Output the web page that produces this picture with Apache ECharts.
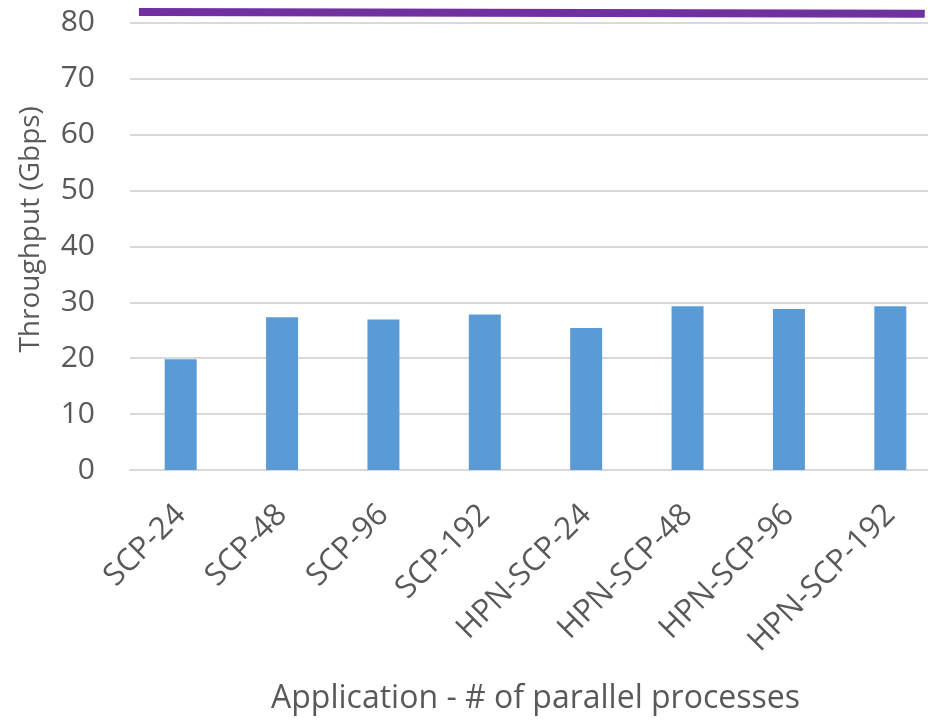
<!DOCTYPE html>
<html>
<head>
<meta charset="utf-8">
<script src="https://cdn.jsdelivr.net/npm/echarts@6/dist/echarts.min.js"></script>
<style>
  html, body { margin: 0; padding: 0; background: #fff; overflow: hidden; }
  #chart { width: 945px; height: 720px; }
</style>
</head>
<body>
<div id="chart"></div>
<script>
// Application runs and their measured throughput (Gbps)
var categories = ['SCP-24', 'SCP-48', 'SCP-96', 'SCP-192',
                  'HPN-SCP-24', 'HPN-SCP-48', 'HPN-SCP-96', 'HPN-SCP-192'];
var throughput = [19.8, 27.3, 26.9, 27.8, 25.4, 29.3, 28.8, 29.3];

// Reference throughput line drawn across the plot (span fraction, Gbps)
var refSpan = [0.011, 0.98];
var refLevel = [81.9, 81.6];

var yTicks = { min: 0, max: 80, interval: 10 };

var FONT = 'Open Sans';
var GREY = '#595959';

var chart = echarts.init(document.getElementById('chart'), null, { renderer: 'canvas' });

chart.setOption({
  animation: false,
  backgroundColor: '#ffffff',
  grid: { left: 130, top: 22.7, width: 811, height: 448.3, containLabel: false },
  xAxis: [
    {
      type: 'category',
      data: categories,
      boundaryGap: true,
      axisLine: { show: true, lineStyle: { color: '#d9d9d9', width: 2 } },
      axisTick: { show: false },
      axisLabel: { rotate: 45, margin: 40, fontFamily: FONT, fontSize: 31, color: GREY, interval: 0 },
      name: 'Application - # of parallel processes',
      nameLocation: 'middle',
      nameGap: 213,
      nameTextStyle: { fontFamily: FONT, fontSize: 32, color: GREY }
    },
    {
      type: 'value',
      min: 0,
      max: 1,
      show: false
    }
  ],
  yAxis: {
    type: 'value',
    min: yTicks.min,
    max: yTicks.max,
    interval: yTicks.interval,
    axisLine: { show: false },
    axisTick: { show: false },
    splitLine: { show: true, lineStyle: { color: '#d9d9d9', width: 2 } },
    axisLabel: { margin: 35, fontFamily: FONT, fontSize: 30, color: GREY },
    name: 'Throughput (Gbps)',
    nameLocation: 'middle',
    nameGap: 85,
    nameTextStyle: { fontFamily: FONT, fontSize: 28, color: GREY, padding: [0, 0, 0, 34] }
  },
  series: [
    {
      type: 'bar',
      xAxisIndex: 0,
      data: throughput,
      barWidth: 32,
      itemStyle: { color: '#5b9bd5' }
    },
    {
      type: 'line',
      xAxisIndex: 1,
      data: refSpan.map(function (x, i) { return [x, refLevel[i]]; }),
      symbol: 'none',
      lineStyle: { color: '#7030a0', width: 8, cap: 'butt' },
      clip: false,
      z: 3
    }
  ]
});
</script>
</body>
</html>
